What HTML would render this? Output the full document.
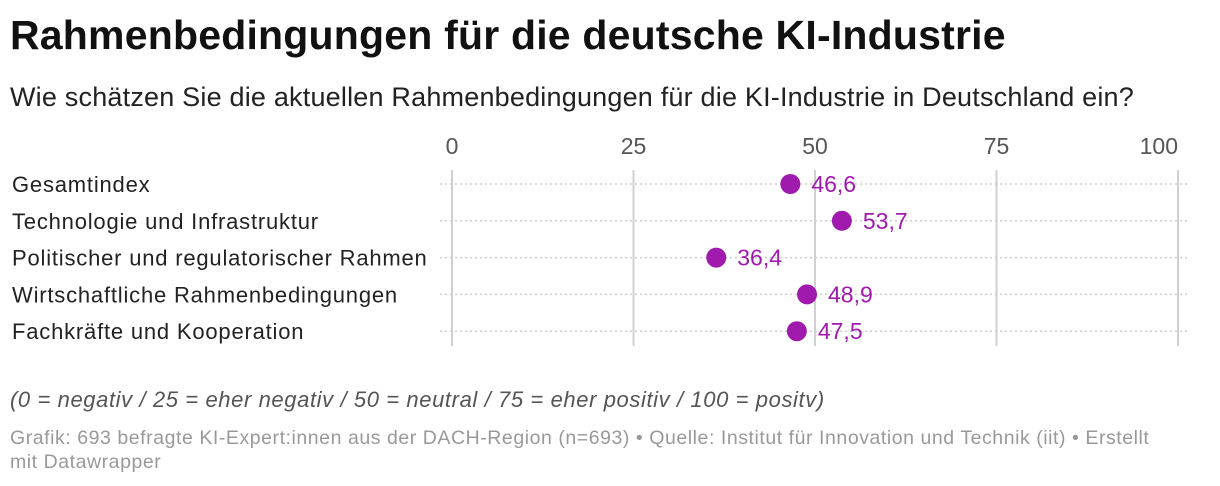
<!DOCTYPE html>
<html><head><meta charset="utf-8"><style>
body{margin:0;background:#fff;font-family:"Liberation Sans",sans-serif;width:1220px;height:486px;overflow:hidden;position:relative}
.t{position:absolute;white-space:nowrap}
</style></head><body>
<div class="t" style="left:10px;top:12px;font-size:41px;font-weight:bold;color:#111;letter-spacing:0.2px">Rahmenbedingungen für die deutsche KI-Industrie</div>
<div class="t" style="left:10px;top:82px;font-size:27px;color:#222;letter-spacing:0.2px">Wie schätzen Sie die aktuellen Rahmenbedingungen für die KI-Industrie in Deutschland ein?</div>
<svg id="c" width="1220" height="370" style="position:absolute;left:0;top:0"></svg>
<div class="t" style="left:10px;top:387px;font-size:22px;font-style:italic;color:#555;letter-spacing:0.6px">(0 = negativ / 25 = eher negativ / 50 = neutral / 75 = eher positiv / 100 = positv)</div>
<div class="t" style="left:10px;top:426px;font-size:19.5px;color:#999;line-height:24px;letter-spacing:0.55px">Grafik: 693 befragte KI-Expert:innen aus der DACH-Region (n=693) • Quelle: Institut für Innovation und Technik (iit) • Erstellt<br>mit Datawrapper</div>
<script>
const categories=["Gesamtindex","Technologie und Infrastruktur","Politischer und regulatorischer Rahmen","Wirtschaftliche Rahmenbedingungen","Fachkräfte und Kooperation"];
const values=[46.6,53.7,36.4,48.9,47.5];
const ticks=[0,25,50,75,100];
const svg=document.getElementById('c');const NS='http://www.w3.org/2000/svg';
const x=v=>452+v*7.26;const y=i=>184+i*36.8;
function mk(t,a){const e=document.createElementNS(NS,t);for(const k in a)e.setAttribute(k,a[k]);svg.appendChild(e);return e;}
categories.forEach((c,i)=>{
 const l=mk('line',{x1:440,x2:1190,y1:y(i),y2:y(i),stroke:'#ccc','stroke-width':1.5,'stroke-dasharray':'2,3'});
 
 
 const t=mk('text',{x:12,y:y(i)+8,'font-size':22,fill:'#222','letter-spacing':0.8});t.textContent=c;
 
 
});
ticks.forEach((v,k)=>{
 const l=mk('line',{x1:x(v),x2:x(v),y1:170,y2:346,stroke:'#d0d0d0','stroke-width':2});
 
 
 const t=mk('text',{x:x(v),y:154,'font-size':23,fill:'#555','text-anchor':k==ticks.length-1?'end':'middle'});t.textContent=v;
 
 
});
values.forEach((v,i)=>{
 const d=mk('circle',{cx:x(v),cy:y(i),r:10,fill:'#a01aae'});
 
 
 const t=mk('text',{x:x(v)+21,y:y(i)+8,'font-size':23,fill:'#a01aae'});t.textContent=v.toFixed(1).replace('.',',');
 
 
});
</script>
</body></html>
